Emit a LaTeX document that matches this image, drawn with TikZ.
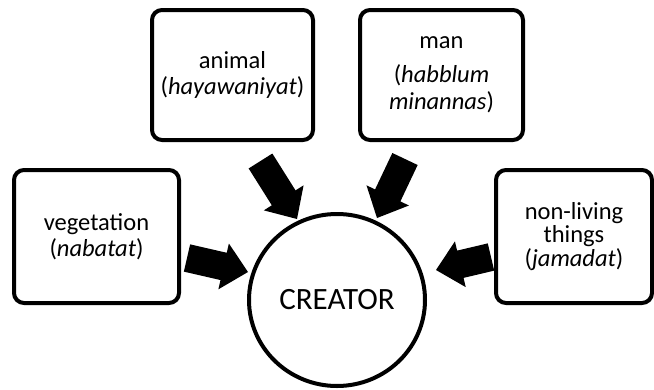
\documentclass[tikz,border=0pt]{standalone}
\usepackage{fontspec}
\setmainfont{Carlito}
\usetikzlibrary{calc,shapes.geometric}
\newcommand{\myblockarrow}[2]{%
  \coordinate (hb) at ($(#2)!25pt!(#1)$);
  \fill[black] ($(#1)!14pt!90:(#2)$) -- ($(hb)!14pt!90:(#2)$) -- ($(hb)!23.5pt!90:(#2)$) -- (#2)
    -- ($(hb)!23.5pt!-90:(#2)$) -- ($(hb)!14pt!-90:(#2)$) -- ($(#1)!14pt!-90:(#2)$) -- cycle;}
\begin{document}
\begin{tikzpicture}[x=1pt,y=-1pt,
  box/.style={draw,line width=4pt,rounded corners=10pt,align=center,inner sep=0pt,
    font=\fontsize{24.5}{26}\selectfont},
  creatorstyle/.style={draw,ellipse,line width=4pt,inner sep=0pt,minimum width=176pt,minimum height=172pt,
    font=\fontsize{31}{33}\selectfont}]
\useasboundingbox (0,0) rectangle (654,389);
\node[box,minimum width=161pt,minimum height=130pt] (animal) at (232.5,75) {animal\\(\textit{hayawaniyat})};
\node[box,minimum width=163pt,minimum height=130pt,font=\fontsize{24.5}{27}\selectfont] (man) at (441.5,75) {\raisebox{0pt}[0pt][0pt]{}man\\[7pt](\textit{habblum}\\\textit{minannas})};
\node[box,minimum width=165pt,minimum height=133pt] (veg) at (96.5,236.5) {vegetation\\(\textit{nabatat})};
\node[box,minimum width=156pt,minimum height=133pt,font=\fontsize{24.5}{23.5}\selectfont] (nonliving) at (574,236.5) {non-living\\things\\(\textit{jamadat})};
\node[creatorstyle] (creator) at (337,300) {CREATOR};
\coordinate (ta) at (260.5,161);
\coordinate (pa) at (297,219);
\coordinate (tm) at (405,159);
\coordinate (pm) at (377,218);
\coordinate (tv) at (187,258);
\coordinate (pv) at (248,272);
\coordinate (tn) at (491,257);
\coordinate (pn) at (436,270);
\myblockarrow{ta}{pa}
\myblockarrow{tm}{pm}
\myblockarrow{tv}{pv}
\myblockarrow{tn}{pn}
\end{tikzpicture}
\end{document}
